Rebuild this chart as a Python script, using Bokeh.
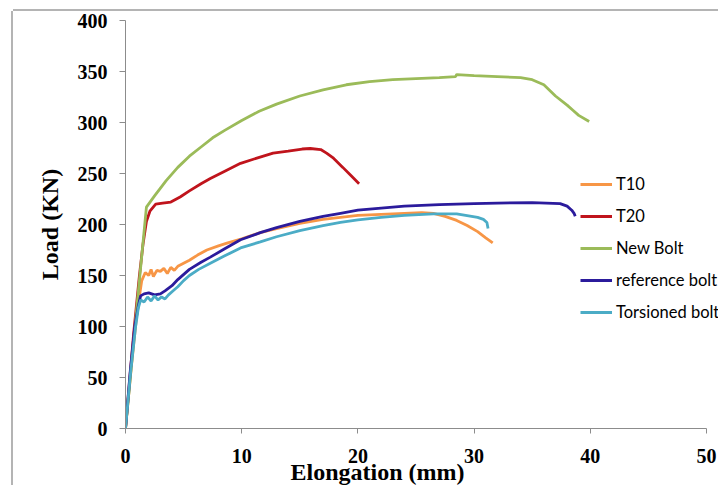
from bokeh.plotting import figure
from bokeh.models import Range1d, FixedTicker, Legend, LegendItem, Title
from bokeh.embed import file_html
from bokeh.resources import INLINE

# ---- data ----
series_names = ["T10", "T20", "New Bolt", "reference bolt", "Torsioned bolt"]

t10_x = [0, 0.5, 1.0, 1.4, 1.7, 2.0, 2.2, 2.4, 2.7, 3.0, 3.3, 3.6, 3.9, 4.2, 4.5, 5.0, 5.5, 6.2, 7.0,
         8.0, 8.8, 10, 11.6, 13, 15, 17, 18.5, 20, 22, 24, 25.5, 26.5, 27.5, 28.5, 29.4, 30.3, 31, 31.6]
t10_y = [0, 60, 115, 145, 153, 150, 156, 149, 155, 154, 157, 152, 158, 155, 159, 162, 165, 170, 175,
         179, 182, 186, 192, 196, 201, 205, 207, 209, 210, 211, 211.5, 211, 208, 204, 199, 193, 187, 182]

t20_x = [0, 0.7, 1.2, 1.5, 1.8, 2.1, 2.6, 3.2, 3.9, 4.7, 5.5, 6.5, 7.3, 8.5, 9.9, 11, 12.7, 14, 15.2,
         15.9, 16.8, 17.3, 17.9, 18.7, 19.4, 20.1]
t20_y = [0, 93, 150, 180, 203, 213, 220, 221, 222, 227, 233, 240, 245, 252, 260, 264, 270, 272, 274,
         274.5, 273.5, 270, 265, 256, 248, 240]

new_x = [0, 0.9, 1.8, 2.5, 3.5, 4.5, 5.5, 6.5, 7.5, 8.5, 10, 11.5, 13, 15, 17, 19, 21, 23, 25, 27,
         28.4, 28.5, 30, 32, 34, 35, 36, 37, 38, 38.5, 39, 39.9]
new_y = [0, 110, 217, 228, 243, 256, 267, 276, 285, 292, 302, 311, 318, 326, 332, 337, 340, 342, 343, 344,
         345, 347, 346, 345, 344, 342, 337, 326, 317, 312, 307, 301]

ref_x = [0, 0.4, 0.8, 1.1, 1.3, 1.6, 2.0, 2.5, 3.0, 3.4, 4.0, 4.5, 5.5, 6.5, 7.3, 8.5, 9.9, 11.6, 13,
         15, 17, 18.5, 20, 22, 24, 27, 30, 32, 35, 37.4, 38.0, 38.4, 38.6, 38.7]
ref_y = [0, 55, 100, 120, 130, 132, 133, 131, 132, 135, 140, 146, 156, 163, 168, 176, 185, 192, 197,
         203, 208, 211, 214, 216, 218, 219.5, 220.5, 221, 221.5, 220.5, 218, 214, 211, 208]

tor_x = [0, 0.43, 0.86, 1.1, 1.3, 1.6, 1.9, 2.2, 2.5, 2.8, 3.1, 3.4, 3.7, 4.1, 4.5, 5.0, 5.5, 6.3, 7.3,
         8.5, 9.9, 11.6, 13, 15, 17, 18.5, 20, 22, 24, 26.5, 28.5, 30.3, 30.8, 31.1, 31.2]
tor_y = [0, 54, 99, 118, 126, 124, 129, 125, 130, 126, 129, 127, 131, 135, 139, 145, 150, 156, 162,
         169, 177, 183, 188, 194, 199, 202, 204.5, 207, 209, 210.5, 210.5, 207, 205, 202, 196]

x_ticks = [0, 10, 20, 30, 40, 50]
y_ticks = [0, 50, 100, 150, 200, 250, 300, 350, 400]

colors = ["#F79646", "#C0141C", "#9BBB59", "#2B1B9C", "#4BACC6"]

# ---- figure ----
# frame runs to the right edge of the canvas so the legend text can run to the window edge;
# the x axis itself is bounded to 0..50
p = figure(width=705, height=474, output_backend="svg", toolbar_location=None,
           x_range=Range1d(0, 51.03), y_range=Range1d(0, 400))
p.margin = (11, 0, 0, 13)
p.min_border_left = 112
p.min_border_right = 0
p.min_border_top = 9
p.min_border_bottom = 57
p.outline_line_color = None
p.grid.visible = False
p.styles = {"box-shadow": "-2px 0px 0px 0px #b4b4b4, 0px -2px 0px 0px #b4b4b4"}

for ax in (p.xaxis[0], p.yaxis[0]):
    ax.axis_line_color = "#8c8c8c"
    ax.major_tick_line_color = "#8c8c8c"
    ax.minor_tick_line_color = None
    ax.major_tick_in = 0
    ax.major_label_text_font = "Liberation Serif"
    ax.major_label_text_font_style = "bold"
    ax.major_label_text_font_size = "20px"
    ax.major_label_text_color = "black"

p.xaxis.ticker = FixedTicker(ticks=x_ticks)
p.xaxis.bounds = (0, 50)
p.yaxis.ticker = FixedTicker(ticks=y_ticks)
p.xaxis.major_tick_out = 5
p.yaxis.major_tick_out = 6
p.xaxis.major_label_standoff = 15
p.yaxis.major_label_standoff = 12

p.yaxis.axis_label = "Load (KN)"
p.yaxis.axis_label_text_font = "Liberation Serif"
p.yaxis.axis_label_text_font_style = "bold"
p.yaxis.axis_label_text_font_size = "24px"
p.yaxis.axis_label_text_color = "black"
p.yaxis.axis_label_standoff = 12

xs = [t10_x, t20_x, new_x, ref_x, tor_x]
ys = [t10_y, t20_y, new_y, ref_y, tor_y]
items = []
for name, x, y, c in zip(series_names, xs, ys, colors):
    r = p.line(x, y, line_color=c, line_width=2.8)
    items.append(LegendItem(label=name, renderers=[r]))

legend = Legend(items=items, location=(455, 106))
legend.border_line_color = None
legend.background_fill_alpha = 0
legend.padding = 0
legend.margin = 0
legend.spacing = 12
legend.glyph_width = 32
legend.glyph_height = 20
legend.label_height = 20
legend.label_standoff = 4
legend.label_text_font = "Lato"
legend.label_text_font_size = "16.5px"
legend.label_text_color = "black"
p.add_layout(legend, "center")

xtitle = Title(text="Elongation  (mm)", align="left", offset=165, standoff=-18,
               vertical_align="bottom", text_font="Liberation Serif", text_font_style="bold",
               text_font_size="24px", text_color="black")
p.add_layout(xtitle, "below")

open("out.html", "w").write(file_html(p, INLINE))
